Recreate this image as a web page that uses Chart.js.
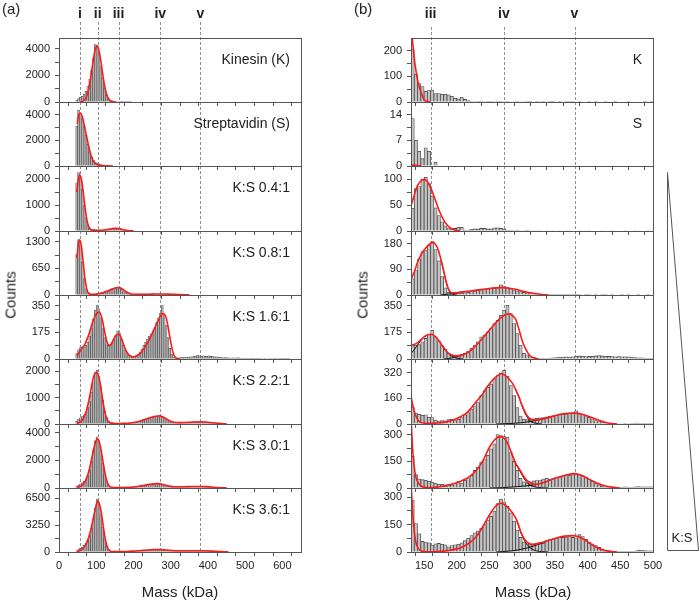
<!DOCTYPE html>
<html>
<head>
<meta charset="utf-8">
<script src="https://cdn.jsdelivr.net/npm/chart.js@4.4.0/dist/chart.umd.min.js"></script>
<style>
body { margin: 0; width: 700px; height: 600px; position: relative; background: #fff; overflow: hidden;
       font-family: "Liberation Sans", Arial, sans-serif; }
canvas { position: absolute; }
.txt { position: absolute; white-space: nowrap; color: #222; line-height: 1; }
</style>
</head>
<body>
<script>
// ---- data (counts per 5 kDa bin, fits as [mass, counts]) ----
const binWidth = 5;
const binStartA = 45;
const binStartB = 130;

const namesA = ['Kinesin (K)', 'Streptavidin (S)', 'K:S 0.4:1', 'K:S 0.8:1', 'K:S 1.6:1', 'K:S 2.2:1', 'K:S 3.0:1', 'K:S 3.6:1'];
const namesB = ['K', 'S', '', '', '', '', '', ''];
const yMaxA = [4800, 5000, 2500, 1560, 420, 2470, 4620, 7740];
const yLabelStepA = [2000, 2000, 1000, 650, 175, 1000, 2000, 3250];
const yMaxB = [250, 17.5, 126, 225, 420, 406, 361, 351];
const yLabelStepB = [100, 7, 50, 90, 175, 160, 150, 150];
const refNames = ['i', 'ii', 'iii', 'iv', 'v'];
const refMass = [56, 104, 160, 272, 380];

const histA_K = [150,250,350,420,600,800,1200,1700,2400,3300,4300,4250,3600,2700,1800,1000,500,250,120,80,60,50,40,30,25,20,15,12,10,8];
const histA_S = [3100,4350,4100,3700,3100,2400,1700,1100,700,450,300,220,160,110,80,50,30,20,10];
const histA_04 = [1850,2250,2050,1600,1000,500,230,100,60,50,45,40,40,40,40,45,50,55,70,80,95,100,100,90,70,50,35,25,15,10,5];
const histA_08 = [1000,1350,1200,800,400,150,60,30,25,25,30,35,40,50,60,70,85,100,120,140,160,175,180,170,140,100,60,35,25,20,
  18,18,18,18,20,20,22,22,24,25,25,26,26,25,24,22,20,18,16,14,12,10,8,6,5,4,3,2,2,1,1];
const histA_16 = [35,60,75,80,80,90,110,150,200,260,320,350,330,270,200,140,100,90,95,110,130,155,185,170,130,90,60,40,25,20,
  15,18,22,30,45,65,90,110,130,150,165,185,210,240,270,300,350,290,220,140,70,30,12,8,
  6,8,10,9,10,12,13,14,15,18,20,22,20,18,20,18,17,20,18,16,15,14,12,10,10,8,9,8,7,6,
  7,6,8,7,6,5,6,5,4,5,6,5,4,4,5,4,3,4,3,3,2,3,2,2,3,2,2,1,2,1,1];
const histA_22 = [100,180,230,280,350,450,620,850,1200,1600,1950,2050,1800,1400,900,500,250,120,70,50,40,35,30,30,30,30,30,30,35,40,
  45,55,65,80,95,115,135,160,185,210,235,260,280,300,320,310,280,230,170,120,80,55,45,45,50,55,60,62,65,68,
  70,72,75,78,80,82,85,85,82,78,72,65,55,45,35,28,20,15,10,8,5];
const histA_30 = [100,200,300,380,480,650,900,1300,1900,2700,3400,3700,3400,2700,1800,1000,450,180,80,50,40,35,35,35,35,35,40,40,45,50,
  60,70,85,100,120,145,170,200,230,255,280,300,320,330,320,300,260,210,160,120,90,70,60,60,65,70,75,80,85,90,
  95,100,100,105,110,110,110,110,105,100,90,80,70,55,45,35,25,18,12,8,5];
const histA_36 = [150,300,450,600,800,1050,1450,2000,2900,4000,5300,6400,5800,4600,3000,1600,700,280,110,60,50,
  45,40,40,40,45,45,50,55,60,70,85,100,120,140,165,190,215,240,260,280,295,305,310,305,290,265,235,200,170,
  150,140,135,135,135,140,140,145,145,150,150,150,155,155,155,155,155,150,145,135,120,105,90,75,60,45,35,25,18,12,8];

const fitA_K = [[57,10],[62,37],[67,112],[72,290],[77,660],[82,1290],[87,2160],[92,3120],[97,3900],[102,4200],[107,3900],
  [112,3120],[117,2160],[122,1290],[127,660],[132,290],[137,112],[142,37],[147,10],[152,0]];
const fitA_S = [[49,3300],[52,3900],[57,4120],[62,3900],[67,3300],[72,2600],[77,1900],[82,1250],[87,750],[92,420],[97,220],
  [102,110],[107,60],[112,35],[120,20],[130,10],[145,0]];
const fitA_04 = [[48,1500],[52,2000],[56,2150],[60,2000],[65,1500],[70,900],[75,420],[80,160],[85,60],[90,30],[100,25],[110,30],
  [120,40],[130,60],[140,85],[150,100],[155,102],[160,95],[170,60],[180,30],[190,10],[200,3]];
const fitA_08 = [[48,900],[52,1250],[56,1340],[60,1200],[65,800],[70,380],[75,130],[80,40],[90,15],[100,20],[110,35],[120,60],
  [130,95],[140,135],[150,170],[160,182],[170,150],[180,80],[190,35],[200,20],[220,18],[240,20],[260,24],[280,25],[300,20],
  [320,12],[340,5],[350,2]];
const fitA_16 = [[48,20],[55,45],[60,65],[70,100],[80,160],[90,240],[100,295],[108,308],[115,270],[120,210],[125,150],[130,105],
  [135,88],[140,95],[145,120],[150,145],[155,160],[160,162],[165,150],[170,120],[175,85],[180,55],[185,35],[190,22],[195,16],
  [200,14],[205,16],[210,22],[220,42],[230,75],[240,115],[250,165],[260,220],[270,270],[278,298],[283,295],[288,270],[293,210],
  [298,140],[303,75],[308,30],[313,10],[318,3],[325,0]];
const fitA_22 = [[48,20],[55,60],[60,110],[65,200],[70,350],[75,580],[80,880],[85,1250],[90,1620],[95,1880],[101,1960],[105,1880],
  [110,1600],[115,1150],[120,700],[125,350],[130,150],[135,60],[140,30],[150,20],[160,20],[170,22],[180,25],[190,35],[200,55],
  [210,85],[220,125],[230,170],[240,220],[250,265],[260,295],[268,305],[275,290],[282,250],[290,180],[298,115],[305,75],[315,55],
  [325,52],[340,58],[355,68],[370,78],[380,80],[390,76],[400,65],[410,50],[420,35],[430,22],[440,12],[450,5]];
const fitA_30 = [[48,30],[55,90],[60,160],[65,280],[70,480],[75,780],[80,1200],[85,1750],[90,2400],[95,3000],[100,3450],[103,3550],
  [107,3400],[112,2900],[117,2100],[122,1300],[127,650],[132,270],[137,100],[145,40],[155,30],[170,35],[185,45],[200,75],[215,130],
  [230,200],[245,265],[255,300],[262,315],[270,305],[280,255],[290,180],[300,120],[310,90],[320,85],[335,90],[350,100],[365,110],
  [380,112],[395,100],[410,70],[425,40],[440,18],[450,8]];
const fitA_36 = [[48,50],[55,150],[60,280],[65,480],[70,780],[75,1200],[80,1800],[85,2600],[90,3600],[95,4700],[100,5700],[104,6150],
  [108,5900],[113,4900],[118,3400],[123,1900],[128,850],[133,320],[138,110],[145,50],[160,40],[180,60],[200,110],[220,180],
  [240,250],[255,290],[265,300],[275,290],[290,240],[305,180],[320,150],[340,145],[360,150],[375,155],[390,145],[410,110],
  [430,60],[445,25],[455,10]];

const histB_K = [205,108,72,60,42,45,47,33,33,30,30,28,22,15,12,18,10,6,3,2,1,1,2,1,1,2,1,1,2,1,0,2,1,2,2,1,1,0,1,2,
  1,0,1,1,0,1,0,1,1,1,0,1,0,0,1,0,1,0,0,1,0,0,1,0,0,0,1,0,0,0,0,1,0,1];
const histB_S = [13,7,4,2,5,4,0,1];
const histB_04 = [44,82,86,100,104,92,68,45,30,18,10,6,5,5,7,7,2,2,3,4,4,5,5,4,4,6,6,5,4,2,2,1,2,1,1,2,1,1,1,1,
  0,1,0,1,0,1,0,1,1,0,0,1,0,0,1,0,0,0,1,0,0,1,0,0,0,1,0,0,1,0,0,0,1,0];
const histB_08 = [57,86,127,153,156,175,188,160,120,65,25,10,8,9,6,7,8,10,12,14,16,18,20,22,24,25,26,36,30,26,
  22,18,15,12,9,7,5,4,4,3,3,2,2,2,2,1,2,1,1,2,1,1,0,1,1,0,1,0,1,1,0,1,0,0,1,0,1,0,0,1,0,0,1,0];
const histB_16 = [91,91,94,113,135,161,189,145,119,87,63,37,28,20,28,31,37,52,70,91,113,145,156,178,200,233,254,287,319,352,
  298,233,167,91,37,28,15,11,6,5,4,5,6,8,10,12,12,14,13,15,18,20,18,16,17,18,20,22,20,18,17,16,15,16,15,14,14,12,10,8,8,6,5,4];
const histB_22 = [105,68,60,55,58,42,40,25,18,22,20,28,30,22,30,40,57,71,93,114,134,177,208,229,250,282,303,320,335,300,
  240,177,103,50,30,27,30,32,35,38,40,45,48,52,55,58,60,62,65,70,82,68,60,52,42,32,22,15,10,5,3,2,2,3,3,4,3,4,5,5,4,5,4,4];
const histB_30 = [178,75,51,47,44,38,34,28,21,21,9,15,17,25,38,28,44,53,71,99,118,146,160,184,221,249,302,296,290,287,
  200,150,100,55,35,28,35,40,42,45,50,55,50,55,60,62,65,70,72,75,78,75,70,60,50,38,28,18,10,5,2,1,2,1,5,6,5,4,6,8,7,6,7,6];
const histB_36 = [285,156,100,58,55,50,38,45,47,42,40,28,35,40,42,50,62,75,90,105,115,130,150,175,195,225,265,290,275,250,
  215,170,120,80,55,45,40,45,48,52,55,62,68,72,78,80,80,82,85,80,78,95,85,70,55,45,35,25,18,12,8,5,4,3,2,3,2,3,4,10,9,8,7,6];

const fitB_K = [[130,300],[133,220],[136,150],[139,100],[142,65],[145,40],[148,20],[151,6],[155,2],[160,0]];
const fitB_S = [[130,0.3],[140,0.1],[146,0]];
const fitB_04 = [[130,48],[135,70],[140,88],[145,97],[150,100],[155,96],[160,84],[165,68],[170,50],[175,34],[180,21],[185,12],
  [190,6],[195,3],[200,1],[205,0]];
const fitB_08 = [[130,55],[135,82],[140,115],[145,140],[150,158],[155,172],[160,182],[164,185],[168,176],[172,156],[176,122],
  [180,85],[184,45],[188,18],[192,8],[196,7],[200,8],[210,11],[220,14],[230,17],[240,20],[250,23],[260,25],[270,26],[280,24],
  [290,20],[300,14],[310,9],[320,5],[330,2],[340,0]];
const fitB_16 = [[130,90],[135,95],[140,108],[145,125],[150,145],[155,158],[160,162],[165,155],[170,135],[175,105],[180,75],
  [185,48],[190,30],[195,22],[200,20],[205,22],[210,28],[215,38],[220,52],[225,70],[230,92],[235,115],[240,140],[245,165],
  [250,190],[255,215],[260,240],[265,262],[270,280],[275,292],[280,296],[285,285],[290,260],[295,195],[300,120],[305,68],
  [310,32],[315,12],[320,4],[325,0]];
const fitB_22 = [[130,176],[132,130],[135,80],[138,45],[141,22],[145,10],[150,5],[160,4],[170,6],[180,10],[185,15],[190,20],
  [195,27],[200,35],[205,44],[210,55],[215,70],[220,90],[225,115],[230,140],[235,165],[240,190],[245,225],[250,250],[255,275],
  [260,295],[265,310],[269,314],[275,300],[280,280],[285,255],[290,215],[295,170],[300,115],[305,70],[310,40],[315,28],
  [320,25],[325,26],[330,30],[340,40],[350,52],[360,62],[370,67],[380,68],[390,62],[400,50],[410,35],[420,20],[430,8],
  [437,3],[445,0]];
const fitB_30 = [[130,400],[132,250],[134,150],[136,90],[138,55],[141,30],[145,12],[150,4],[160,2],[170,5],[180,12],[190,20],
  [200,30],[210,45],[220,65],[230,100],[240,155],[250,230],[258,272],[266,290],[272,282],[278,250],[284,195],[290,140],
  [297,99],[303,62],[308,40],[315,25],[320,20],[330,28],[340,40],[350,55],[360,66],[370,76],[378,81],[386,78],[396,62],
  [406,42],[416,25],[426,13],[437,5],[450,0]];
const fitB_36 = [[130,380],[132,250],[134,150],[136,85],[138,45],[141,20],[145,7],[150,2],[160,1],[170,2],[180,5],[190,10],
  [200,17],[205,22],[210,30],[220,52],[230,85],[240,140],[250,203],[258,245],[266,267],[272,262],[278,245],[285,215],
  [292,172],[298,110],[304,67],[310,48],[315,42],[320,43],[330,52],[343,67],[355,80],[365,87],[376,90],[386,84],[396,66],
  [404,45],[414,25],[424,10],[435,3],[445,0]];

// single Gaussian components (black)
const compB_08 = [[[176,122],[180,83],[184,42],[188,15],[192,4],[196,1],[200,0]],
  [[175,0],[182,2],[188,3],[194,5],[200,7],[210,10]]];
const compB_16 = [[[130,35],[135,62],[140,92],[145,120],[150,145],[155,158]],
  [[175,105],[180,73],[185,45],[190,25],[195,12],[200,5],[205,2],[210,0]],
  [[180,0],[185,2],[190,5],[195,9],[200,15],[205,20],[210,28],[215,38]]];
const compB_22 = [[[290,215],[295,168],[300,110],[305,62],[310,28],[315,12],[320,5],[325,2],[330,0]],
  [[260,0],[280,3],[300,8],[310,14],[320,21],[330,30],[340,40]]];
const compB_30 = [[[284,193],[290,138],[297,92],[303,52],[308,28],[315,12],[320,6],[330,1],[340,0]],
  [[250,0],[270,2],[290,7],[300,10],[310,14],[320,19],[330,28],[340,40]]];
const compB_36 = [[[292,170],[298,105],[304,58],[310,30],[316,14],[322,6],[330,2],[340,0]],
  [[260,0],[280,5],[295,12],[305,20],[315,30],[325,42],[335,52]]];

const histA = [histA_K, histA_S, histA_04, histA_08, histA_16, histA_22, histA_30, histA_36];
const fitA = [fitA_K, fitA_S, fitA_04, fitA_08, fitA_16, fitA_22, fitA_30, fitA_36];
const histB = [histB_K, histB_S, histB_04, histB_08, histB_16, histB_22, histB_30, histB_36];
const fitB = [fitB_K, fitB_S, fitB_04, fitB_08, fitB_16, fitB_22, fitB_30, fitB_36];
const compB = [[], [], [], compB_08, compB_16, compB_22, compB_30, compB_36];

// ---- layout ----
const rowEdges = [38, 102, 166, 231, 295, 359, 424, 488, 552];
const colA = { left: 0, plotLeft: 59, plotRight: 301, min: 0, max: 650, step: 50, labelStep: 100,
  refs: [0, 1, 2, 3, 4], lineTop: 22, barFill: '#b0b0b0', barEdge: '#3c3c3c', barEdgeW: 0.5,
  binStart: binStartA, names: namesA, yMax: yMaxA, yStep: yLabelStepA, hist: histA, fit: fitA, comps: [] };
const colB = { left: 352, plotLeft: 411, plotRight: 653, min: 130, max: 500, step: 25, labelStep: 50,
  refs: [2, 3, 4], lineTop: 27, barFill: '#c4c4c4', barEdge: '#4a4a4a', barEdgeW: 0.8,
  binStart: binStartB, names: namesB, yMax: yMaxB, yStep: yLabelStepB, hist: histB, fit: fitB, comps: compB };

Chart.defaults.font.family = '"Liberation Sans", Arial, sans-serif';
Chart.defaults.font.size = 11;
Chart.defaults.color = '#222';

const panelDeco = {
  id: 'panelDeco',
  beforeDatasetsDraw(chart, args, opts) {
    const { ctx, chartArea: a, scales: { x } } = chart;
    ctx.save();
    ctx.strokeStyle = '#8f8f8f';
    ctx.lineWidth = 1;
    ctx.setLineDash([3, 2]);
    opts.refs.forEach(r => {
      const px = Math.round(x.getPixelForValue(refMass[r])) + 0.5;
      ctx.beginPath();
      ctx.moveTo(px, opts.lineTop != null ? opts.lineTop : a.top);
      ctx.lineTo(px, a.bottom);
      ctx.stroke();
    });
    ctx.restore();
  },
  afterDatasetsDraw(chart) {
    const { ctx, chartArea: a } = chart;
    ctx.save();
    ctx.strokeStyle = '#555';
    ctx.lineWidth = 1;
    ctx.strokeRect(Math.round(a.left) + 0.5, Math.round(a.top) + 0.5,
      Math.round(a.right - a.left), Math.round(a.bottom - a.top));
    ctx.restore();
  }
};

function addText(txt, x, y, size, extra) {
  const d = document.createElement('div');
  d.className = 'txt';
  d.textContent = txt;
  d.style.left = x + 'px';
  d.style.top = y + 'px';
  d.style.fontSize = size + 'px';
  if (extra) Object.assign(d.style, extra);
  document.body.appendChild(d);
  return d;
}

function makePanel(col, i) {
  const top = rowEdges[i], bottom = rowEdges[i + 1];
  const last = i === 7;
  const padTop = i === 0 ? top : 2;
  const xh = last ? 24 : 8;
  const canvas = document.createElement('canvas');
  canvas.width = col.plotRight - col.left + 12;
  canvas.height = padTop + (bottom - top) + xh;
  canvas.style.left = col.left + 'px';
  canvas.style.top = (top - padTop) + 'px';
  document.body.appendChild(canvas);

  const bars = col.hist[i].map((c, k) => ({ x: col.binStart + binWidth * k + binWidth / 2, y: c }));
  const datasets = [{
    type: 'bar', data: bars, backgroundColor: col.barFill, borderColor: col.barEdge,
    borderWidth: col.barEdgeW, barPercentage: 1, categoryPercentage: 1, grouped: false, order: 3
  }];
  (col.comps[i] || []).forEach(c => datasets.push({
    type: 'line', data: c.map(p => ({ x: p[0], y: p[1] })), borderColor: '#111', borderWidth: 1,
    pointRadius: 0, cubicInterpolationMode: 'monotone', order: 2
  }));
  datasets.push({
    type: 'line', data: col.fit[i].map(p => ({ x: p[0], y: p[1] })), borderColor: '#ff1a1a', borderWidth: 1.6,
    pointRadius: 0, cubicInterpolationMode: 'monotone', order: 1
  });

  const L = col.yStep[i], M = col.yMax[i];
  const chart = new Chart(canvas, {
    type: 'bar',
    data: { datasets },
    options: {
      responsive: false, animation: false, events: [],
      layout: { padding: { top: padTop, right: 12, left: 0, bottom: 0 } },
      plugins: { legend: { display: false }, tooltip: { enabled: false },
        panelDeco: { refs: col.refs, lineTop: i === 0 ? col.lineTop : null } },
      scales: {
        x: {
          type: 'linear', min: col.min, max: col.max, offset: false,
          afterFit(s) { s.height = xh; s.paddingLeft = 0; s.paddingRight = 0; },
          afterBuildTicks(s) {
            const t = [];
            for (let v = Math.ceil(col.min / col.step) * col.step; v <= col.max; v += col.step) t.push({ value: v });
            s.ticks = t;
          },
          ticks: { display: last, autoSkip: false, maxRotation: 0, padding: 3,
            callback: v => (v % col.labelStep === 0 ? String(v) : '') },
          grid: { drawOnChartArea: false, drawTicks: true, tickLength: 4, color: '#555' },
          border: { display: false }
        },
        y: {
          min: 0, max: M,
          afterFit(s) { s.width = col.plotLeft - col.left; s.paddingTop = 0; s.paddingBottom = 0; },
          afterBuildTicks(s) {
            const t = [];
            for (let k = 0; k * L / 2 < M - 1e-9; k++) t.push({ value: k * L / 2 });
            s.ticks = t;
          },
          ticks: { autoSkip: false, padding: 5,
            callback: v => (Math.abs(v / L - Math.round(v / L)) < 1e-6 ? String(v) : '') },
          grid: { drawOnChartArea: false, drawTicks: true, tickLength: 4, color: '#555' },
          border: { display: false }
        }
      }
    },
    plugins: [panelDeco]
  });

  if (col.names[i]) {
    addText(col.names[i], 0, top + 14, 14, { left: 'auto', right: (700 - (col.plotRight - 11)) + 'px' });
  }
  return chart;
}

[colA, colB].forEach(col => {
  const charts = [];
  for (let i = 0; i < 8; i++) charts.push(makePanel(col, i));
  const xs = charts[0].scales.x;
  col.refs.forEach(r => {
    addText(refNames[r], col.left + xs.getPixelForValue(refMass[r]), 6, 14,
      { fontWeight: 'bold', transform: 'translateX(-50%)' });
  });
});

// titles and panel letters
addText('(a)', 2, 1, 15);
addText('(b)', 354, 1, 15);
addText('Counts', 10, 295, 15, { transform: 'translate(-50%,-50%) rotate(-90deg)' });
addText('Counts', 362, 295, 15, { transform: 'translate(-50%,-50%) rotate(-90deg)' });
addText('Mass (kDa)', 180, 584, 15, { transform: 'translateX(-50%)' });
addText('Mass (kDa)', 533, 584, 15, { transform: 'translateX(-50%)' });

// ratio wedge
const svgNS = 'http://www.w3.org/2000/svg';
const svg = document.createElementNS(svgNS, 'svg');
svg.setAttribute('width', '40');
svg.setAttribute('height', '392');
svg.style.position = 'absolute';
svg.style.left = '660px';
svg.style.top = '165px';
const poly = document.createElementNS(svgNS, 'polygon');
poly.setAttribute('points', '7.5,7.5 7.5,385.5 38.5,385.5');
poly.setAttribute('fill', 'none');
poly.setAttribute('stroke', '#555');
poly.setAttribute('stroke-width', '1');
svg.appendChild(poly);
const ks = document.createElementNS(svgNS, 'text');
ks.setAttribute('x', '22');
ks.setAttribute('y', '377');
ks.setAttribute('text-anchor', 'middle');
ks.setAttribute('font-size', '13');
ks.setAttribute('font-family', '"Liberation Sans", Arial, sans-serif');
ks.setAttribute('fill', '#222');
ks.textContent = 'K:S';
svg.appendChild(ks);
document.body.appendChild(svg);
</script>
</body>
</html>
